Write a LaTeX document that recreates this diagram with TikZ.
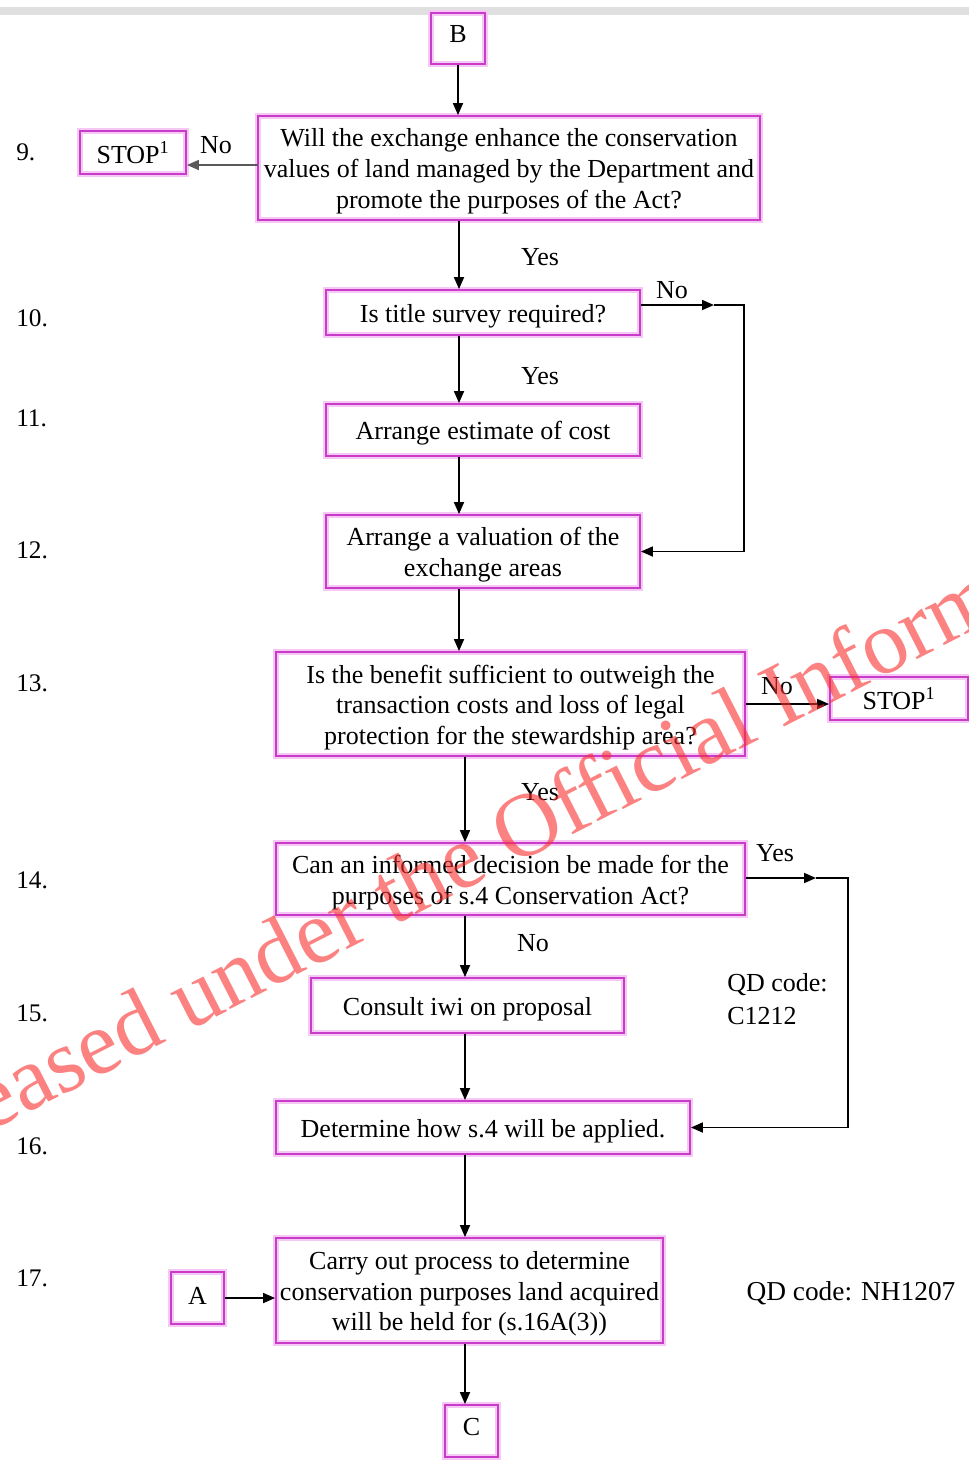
\documentclass[tikz,border=0pt]{standalone}
\usepackage{fontspec}
\setmainfont{Liberation Serif}
\usetikzlibrary{arrows.meta}

\definecolor{boxline}{RGB}{200,60,200}
\definecolor{boxglow}{RGB}{245,200,245}
\definecolor{stamp}{RGB}{250,45,45}

\tikzset{
  x=0.75pt, y=-0.75pt,
  box/.style={draw=boxline, line width=1.4pt, inner sep=0pt,
    preaction={draw=boxglow, line width=4pt}},
  boxtext/.style={inner sep=0pt, align=center,
    font=\fontsize{19.5}{23}\selectfont},
  arr/.style={line width=1.3pt, -{Triangle[length=9pt,width=7.5pt]}},
  lbl/.style={font=\fontsize{19.5}{23}\selectfont, inner sep=0pt},
  stepno/.style={font=\fontsize{19}{23}\selectfont, inner sep=0pt, anchor=west},
}

% box from (x1,y1) to (x2,y2) in pixel-like units; optional text offset
\newcommand\flowbox[7][-2.5pt]{%
  \node[box, minimum width={(#5-#3)*0.75pt}, minimum height={(#6-#4)*0.75pt}]
    (#2) at ({(#3+#5)/2},{(#4+#6)/2}) {};
  \node[boxtext] (#2t) at ([yshift=#1]#2.center) {#7};}

\begin{document}
\begin{tikzpicture}
\useasboundingbox (0,0) rectangle (969,1461);
\clip (0,0) rectangle (969,1461);

% thin grey rule along the top edge
\fill[black!12] (0,7) rectangle (969,15);

% boxes
\flowbox[3pt]{b}{431}{13}{485}{64}{B}
\flowbox{q9}{258}{116}{760}{220}{Will the exchange enhance the conservation\\values of land managed by the Department and\\promote the purposes of the Act?}
\flowbox[0pt]{stopA}{80}{131}{186}{174}{STOP\textsuperscript{1}}
\flowbox{q10}{326}{290}{640}{335}{Is title survey required?}
\flowbox{s11}{326}{404}{640}{456}{Arrange estimate of cost}
\flowbox{s12}{326}{515}{640}{588}{Arrange a valuation of the\\exchange areas}
\flowbox{q13}{276}{652}{745}{756}{Is the benefit sufficient to outweigh the\\transaction costs and loss of legal\\protection for the stewardship area?}
\flowbox[0pt]{stopB}{830}{677}{968}{720}{STOP\textsuperscript{1}}
\flowbox{q14}{276}{843}{745}{915}{Can an informed decision be made for the\\purposes of s.4 Conservation Act?}
\flowbox{s15}{311}{978}{624}{1033}{Consult iwi on proposal}
\flowbox{s16}{276}{1101}{690}{1154}{Determine how s.4 will be applied.}
\flowbox{s17}{276}{1238}{663}{1343}{Carry out process to determine\\conservation purposes land acquired\\will be held for (s.16A(3))}
\flowbox[1.5pt]{a}{171}{1272}{224}{1324}{A}
\flowbox[3pt]{c}{445}{1405}{498}{1457}{C}

% spines for the vertical connectors
\coordinate (spA) at (459,0);
\coordinate (spB) at (465,0);

% vertical flow
\draw[arr] (b.south) -- (b.south |- q9.north);
\draw[arr] (q9.south -| spA) -- (q10.north -| spA);
\draw[arr] (q10.south -| spA) -- (s11.north -| spA);
\draw[arr] (s11.south -| spA) -- (s12.north -| spA);
\draw[arr] (s12.south -| spA) -- (q13.north -| spA);
\draw[arr] (q13.south -| spB) -- (q14.north -| spB);
\draw[arr] (q14.south -| spB) -- (s15.north -| spB);
\draw[arr] (s15.south -| spB) -- (s16.north -| spB);
\draw[arr] (s16.south -| spB) -- (s17.north -| spB);
\draw[arr] (s17.south -| spB) -- (c.north -| spB);

% side branches
\coordinate (q9out) at (258,165);
\draw[arr, draw=black!65] (q9out) -- (stopA.east |- q9out);

\coordinate (n10) at (714,305);
\coordinate (n10c) at (744,305);
\draw[arr] (q10.east |- n10) -- (n10);
\draw[arr] (n10) -- (n10c) |- (s12.east);

\draw[arr] (q13.east) -- (stopB.west |- q13.east);

\coordinate (y14) at (816,878);
\coordinate (y14c) at (848,878);
\draw[arr] (q14.east |- y14) -- (y14);
\draw[arr] (y14) -- (y14c) |- (s16.east);

\draw[arr] (a.east) -- (s17.west |- a.east);

% branch labels
\node[lbl] (l9) at (216,145) {No};
\node[lbl] (l9y) at (540,257) {Yes};
\node[lbl] (l10n) at (672,290) {No};
\node[lbl] (l10y) at (540,376) {Yes};
\node[lbl] (l13n) at (777,686) {No};
\node[lbl] (l13y) at (540,792) {Yes};
\node[lbl] (l14y) at (775,853) {Yes};
\node[lbl] (l14n) at (533,943) {No};

% QD codes
\node[lbl, anchor=west, align=left, font=\fontsize{19.5}{25}\selectfont] (qd1) at (727,999) {QD code:\\C1212};
\node[lbl, font=\fontsize{20.5}{23}\selectfont] (qd2) at (851,1293) {QD code: NH1207};

% step numbers
\node[stepno] (n9) at (16,152) {9.};
\node[stepno] (n10) at (16,318) {10.};
\node[stepno] (n11) at (16,418) {11.};
\node[stepno] (n12) at (16,550) {12.};
\node[stepno] (n13) at (16,683) {13.};
\node[stepno] (n14) at (16,880) {14.};
\node[stepno] (n15) at (16,1013) {15.};
\node[stepno] (n16) at (16,1146) {16.};
\node[stepno] (n17) at (16,1278) {17.};

% release stamp across the page
\node[anchor=base west, rotate=27, inner sep=0pt, text=stamp, text opacity=0.6,
      font=\fontsize{68}{68}\selectfont] (stamp) at (-124,1190)
      {Released under the Official Information Act};
\end{tikzpicture}
\end{document}
